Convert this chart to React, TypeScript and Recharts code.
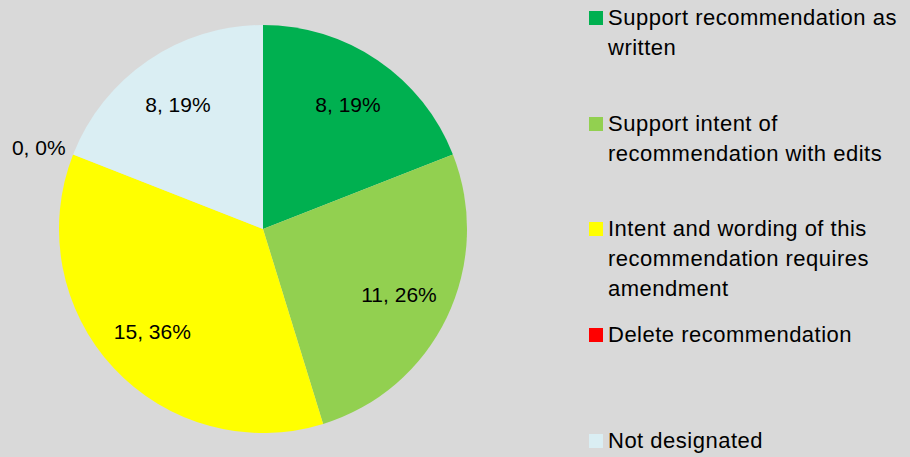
import React from "react";
import { PieChart, Pie, Cell, Legend } from "recharts";

const categories = [
  "Support recommendation as written",
  "Support intent of recommendation with edits",
  "Intent and wording of this recommendation requires amendment",
  "Delete recommendation",
  "Not designated",
];
const legendLines = [
  ["Support recommendation as", "written"],
  ["Support intent of", "recommendation with edits"],
  ["Intent and wording of this", "recommendation requires", "amendment"],
  ["Delete recommendation"],
  ["Not designated"],
];
const counts = [8, 11, 15, 0, 8];
const colors = ["#00B050", "#92D050", "#FFFF00", "#FF0000", "#DAEEF3"];

const data = categories.map((name, i) => ({ name, value: counts[i] }));

const FONT = "'Liberation Sans', 'DejaVu Sans', sans-serif";
const RAD = Math.PI / 180;

const renderLabel = (props: any) => {
  const { cx, cy, midAngle, outerRadius, value, percent } = props;
  const pct = Math.round((percent || 0) * 100);
  const text = `${value}, ${pct}%`;
  if (value === 0) {
    const r = outerRadius + 8;
    const x = cx + r * Math.cos(-midAngle * RAD);
    const y = cy + r * Math.sin(-midAngle * RAD);
    return (
      <text x={x} y={y - 4} textAnchor="end" dominantBaseline="central" fill="#000" fontSize={21} fontFamily={FONT}>
        {text}
      </text>
    );
  }
  const r = outerRadius * 0.74;
  const x = cx + r * Math.cos(-midAngle * RAD);
  const y = cy + r * Math.sin(-midAngle * RAD);
  return (
    <text x={x} y={y} textAnchor="middle" dominantBaseline="central" fill="#000" fontSize={21} fontFamily={FONT}>
      {text}
    </text>
  );
};

const renderLegend = () => (
  <div style={{ fontFamily: FONT, fontSize: 22, letterSpacing: 0.5, color: "#000" }}>
    {legendLines.map((lines, i) => (
      <div key={categories[i]} style={{ position: "relative", height: 105.7 }}>
        <div
          style={{
            position: "absolute",
            left: 0,
            top: 4,
            width: 14,
            height: 14,
            background: colors[i],
          }}
        />
        <div style={{ position: "absolute", left: 19, top: -4, lineHeight: "30px", whiteSpace: "nowrap" }}>
          {lines.map((l, j) => (
            <div key={j}>{l}</div>
          ))}
        </div>
      </div>
    ))}
  </div>
);

export default function App() {
  return (
    <div style={{ position: "fixed", left: 0, top: 0, width: 910, height: 457, background: "#D9D9D9" }}>
      <PieChart width={910} height={457} margin={{ top: 0, right: 0, bottom: 0, left: 0 }}>
        <Pie
          data={data}
          dataKey="value"
          nameKey="name"
          cx={263}
          cy={229}
          outerRadius={204}
          startAngle={90}
          endAngle={-270}
          stroke="none"
          label={renderLabel}
          labelLine={false}
          isAnimationActive={false}
        >
          {data.map((d, i) => (
            <Cell key={d.name} fill={colors[i]} />
          ))}
        </Pie>
        <Legend
          content={renderLegend}
          wrapperStyle={{ position: "absolute", left: 589, top: 7, width: 321 }}
        />
      </PieChart>
    </div>
  );
}
